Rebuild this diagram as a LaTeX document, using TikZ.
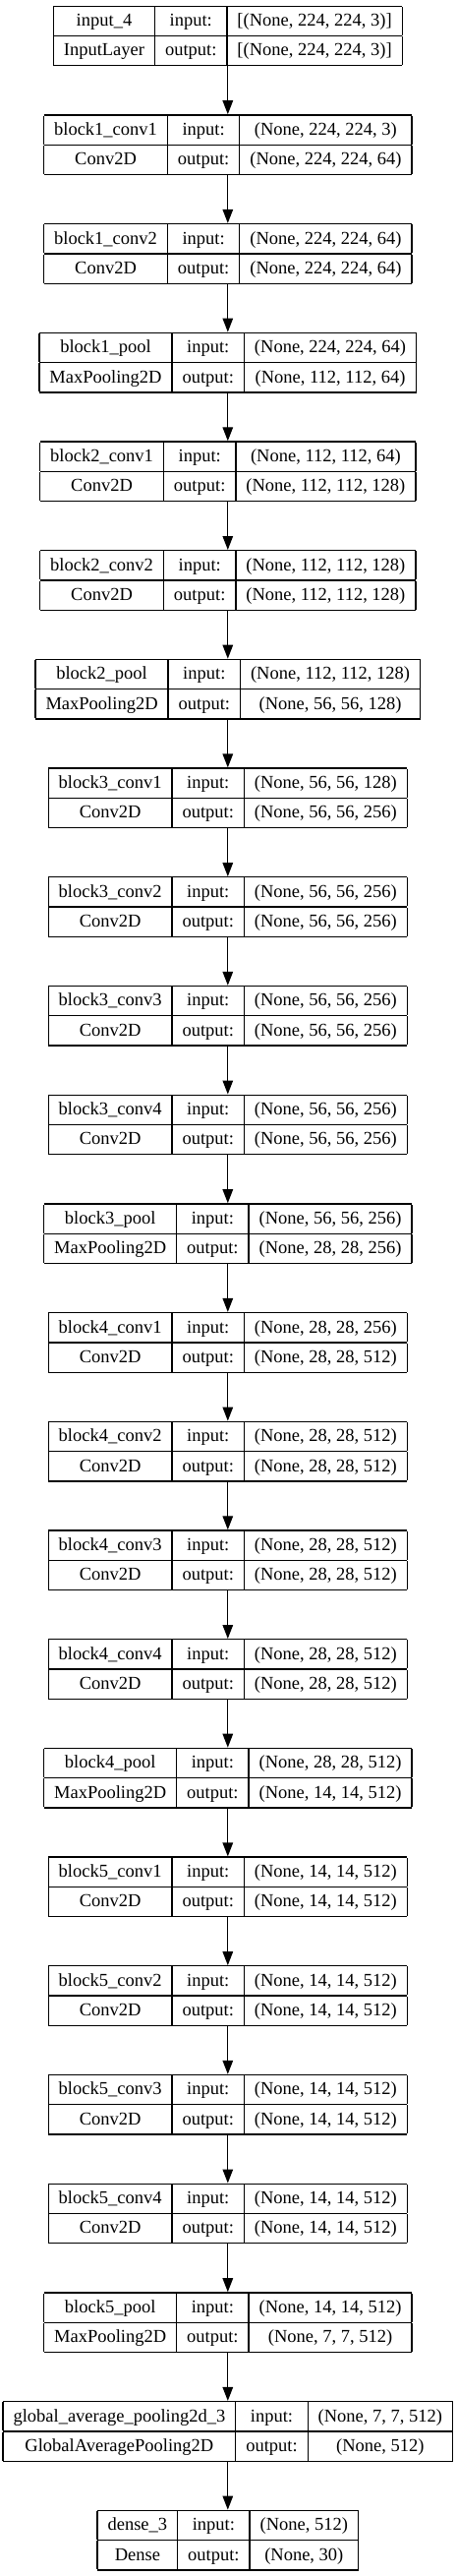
\documentclass[tikz,border=0pt]{standalone}
\usepackage{fontspec}
\setmainfont{Liberation Serif}
\usetikzlibrary{arrows.meta, positioning}
\setlength{\arrayrulewidth}{1.3pt}
\setlength{\tabcolsep}{10.5pt}
\newcommand{\rowstrut}{\rule[-9.2pt]{0pt}{29pt}}
% one keras layer: name, class, input shape, output shape
\newcommand{\layertab}[4]{%
  \begin{tabular}{|c|c|c|}\hline
  \rowstrut#1 & input: & #3\\\hline
  \rowstrut#2 & output: & #4\\\hline
  \end{tabular}}

\begin{document}
\begin{tikzpicture}[node distance=48.8pt, font=\fontsize{18.5pt}{22pt}\selectfont]
        \tikzstyle{layer} = [inner sep=0pt, outer sep=0pt]
        \tikzstyle{arrow} = [line width=1.3pt, -{Triangle[length=14pt,width=10.5pt]}]
        \useasboundingbox (0,0) rectangle (464pt,-2619pt);

        \node (inp) [layer, anchor=north] at (231.8pt,-5.5pt) {\layertab{input\_4}{InputLayer}{[(None, 224, 224, 3)]}{[(None, 224, 224, 3)]}};
        \node (b1c1) [layer, below=of inp] {\layertab{block1\_conv1}{Conv2D}{(None, 224, 224, 3)}{(None, 224, 224, 64)}};
        \node (b1c2) [layer, below=of b1c1] {\layertab{block1\_conv2}{Conv2D}{(None, 224, 224, 64)}{(None, 224, 224, 64)}};
        \node (b1p) [layer, below=of b1c2] {\layertab{block1\_pool}{MaxPooling2D}{(None, 224, 224, 64)}{(None, 112, 112, 64)}};
        \node (b2c1) [layer, below=of b1p] {\layertab{block2\_conv1}{Conv2D}{(None, 112, 112, 64)}{(None, 112, 112, 128)}};
        \node (b2c2) [layer, below=of b2c1] {\layertab{block2\_conv2}{Conv2D}{(None, 112, 112, 128)}{(None, 112, 112, 128)}};
        \node (b2p) [layer, below=of b2c2] {\layertab{block2\_pool}{MaxPooling2D}{(None, 112, 112, 128)}{(None, 56, 56, 128)}};
        \node (b3c1) [layer, below=of b2p] {\layertab{block3\_conv1}{Conv2D}{(None, 56, 56, 128)}{(None, 56, 56, 256)}};
        \node (b3c2) [layer, below=of b3c1] {\layertab{block3\_conv2}{Conv2D}{(None, 56, 56, 256)}{(None, 56, 56, 256)}};
        \node (b3c3) [layer, below=of b3c2] {\layertab{block3\_conv3}{Conv2D}{(None, 56, 56, 256)}{(None, 56, 56, 256)}};
        \node (b3c4) [layer, below=of b3c3] {\layertab{block3\_conv4}{Conv2D}{(None, 56, 56, 256)}{(None, 56, 56, 256)}};
        \node (b3p) [layer, below=of b3c4] {\layertab{block3\_pool}{MaxPooling2D}{(None, 56, 56, 256)}{(None, 28, 28, 256)}};
        \node (b4c1) [layer, below=of b3p] {\layertab{block4\_conv1}{Conv2D}{(None, 28, 28, 256)}{(None, 28, 28, 512)}};
        \node (b4c2) [layer, below=of b4c1] {\layertab{block4\_conv2}{Conv2D}{(None, 28, 28, 512)}{(None, 28, 28, 512)}};
        \node (b4c3) [layer, below=of b4c2] {\layertab{block4\_conv3}{Conv2D}{(None, 28, 28, 512)}{(None, 28, 28, 512)}};
        \node (b4c4) [layer, below=of b4c3] {\layertab{block4\_conv4}{Conv2D}{(None, 28, 28, 512)}{(None, 28, 28, 512)}};
        \node (b4p) [layer, below=of b4c4] {\layertab{block4\_pool}{MaxPooling2D}{(None, 28, 28, 512)}{(None, 14, 14, 512)}};
        \node (b5c1) [layer, below=of b4p] {\layertab{block5\_conv1}{Conv2D}{(None, 14, 14, 512)}{(None, 14, 14, 512)}};
        \node (b5c2) [layer, below=of b5c1] {\layertab{block5\_conv2}{Conv2D}{(None, 14, 14, 512)}{(None, 14, 14, 512)}};
        \node (b5c3) [layer, below=of b5c2] {\layertab{block5\_conv3}{Conv2D}{(None, 14, 14, 512)}{(None, 14, 14, 512)}};
        \node (b5c4) [layer, below=of b5c3] {\layertab{block5\_conv4}{Conv2D}{(None, 14, 14, 512)}{(None, 14, 14, 512)}};
        \node (b5p) [layer, below=of b5c4] {\layertab{block5\_pool}{MaxPooling2D}{(None, 14, 14, 512)}{(None, 7, 7, 512)}};
        \node (gap) [layer, below=of b5p] {\layertab{global\_average\_pooling2d\_3}{GlobalAveragePooling2D}{(None, 7, 7, 512)}{(None, 512)}};
        \node (dense) [layer, below=of gap] {\layertab{dense\_3}{Dense}{(None, 512)}{(None, 30)}};

        \draw [arrow] (inp) -- (b1c1);
        \draw [arrow] (b1c1) -- (b1c2);
        \draw [arrow] (b1c2) -- (b1p);
        \draw [arrow] (b1p) -- (b2c1);
        \draw [arrow] (b2c1) -- (b2c2);
        \draw [arrow] (b2c2) -- (b2p);
        \draw [arrow] (b2p) -- (b3c1);
        \draw [arrow] (b3c1) -- (b3c2);
        \draw [arrow] (b3c2) -- (b3c3);
        \draw [arrow] (b3c3) -- (b3c4);
        \draw [arrow] (b3c4) -- (b3p);
        \draw [arrow] (b3p) -- (b4c1);
        \draw [arrow] (b4c1) -- (b4c2);
        \draw [arrow] (b4c2) -- (b4c3);
        \draw [arrow] (b4c3) -- (b4c4);
        \draw [arrow] (b4c4) -- (b4p);
        \draw [arrow] (b4p) -- (b5c1);
        \draw [arrow] (b5c1) -- (b5c2);
        \draw [arrow] (b5c2) -- (b5c3);
        \draw [arrow] (b5c3) -- (b5c4);
        \draw [arrow] (b5c4) -- (b5p);
        \draw [arrow] (b5p) -- (gap);
        \draw [arrow] (gap) -- (dense);
    \end{tikzpicture}
\end{document}
